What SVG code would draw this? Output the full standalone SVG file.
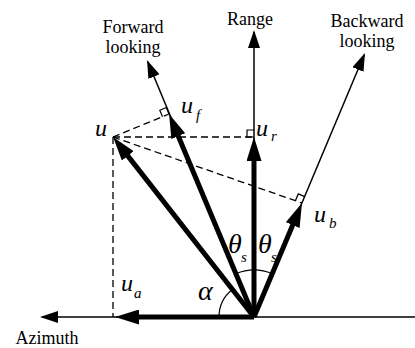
<svg xmlns="http://www.w3.org/2000/svg" width="415" height="348" viewBox="0 0 415 348">
<style>
.thin{stroke:#000;stroke-width:1.5;fill:none}
.thick{stroke:#000;stroke-width:5;fill:none}
.dash{stroke:#000;stroke-width:1.3;fill:none;stroke-dasharray:7 4}
.arc{stroke:#000;stroke-width:1.2;fill:none}
.sq{stroke:#000;stroke-width:1.2;fill:none}
text{font-family:'Liberation Serif','Times New Roman',serif;fill:#000}
.lbl{font-size:18px;text-anchor:middle}
.m{font-style:italic;font-size:24px}
.g{font-style:italic;font-size:28px}
.sub{font-style:italic;font-size:15px}
</style>
<defs>
<marker id="ah" markerUnits="userSpaceOnUse" markerWidth="18" markerHeight="12" refX="16" refY="6" orient="auto"><path d="M0,0 L18,6 L0,12 z" fill="#000"/></marker>
<marker id="ahb" markerUnits="userSpaceOnUse" markerWidth="24" markerHeight="15" refX="14" refY="7.5" orient="auto"><path d="M0,0 L24,7.5 L0,15 z" fill="#000"/></marker>
</defs>
<g id="connectors">
<line class="dash" x1="113" y1="137" x2="113" y2="317"/>
<line class="dash" x1="113" y1="137" x2="254" y2="137"/>
<line class="dash" x1="113" y1="137" x2="169" y2="114"/>
<line class="dash" x1="113" y1="137" x2="302" y2="203"/>
<line class="thin" x1="415" y1="317" x2="42" y2="317" marker-end="url(#ah)"/>
<line class="thin" x1="254" y1="317" x2="254" y2="32" marker-end="url(#ah)"/>
<line class="thin" x1="254" y1="317" x2="147.8" y2="61.8" marker-end="url(#ah)"/>
<line class="thin" x1="254" y1="317" x2="364.2" y2="54.8" marker-end="url(#ah)"/>
<line class="thick" x1="254" y1="317" x2="119.2" y2="144.9" marker-end="url(#ahb)"/>
<line class="thick" x1="254" y1="317" x2="172.9" y2="123.2" marker-end="url(#ahb)"/>
<line class="thick" x1="254" y1="317" x2="254" y2="147" marker-end="url(#ahb)"/>
<line class="thick" x1="254" y1="317" x2="298.1" y2="212.2" marker-end="url(#ahb)"/>
<line class="thick" x1="254" y1="317" x2="125" y2="317" marker-end="url(#ahb)"/>
<path class="sq" d="M169,114 L166.3,107.5 L159.8,110.2 L162.5,116.7"/>
<path class="sq" d="M254,130 L247,130 L247,137 L254,137"/>
<path class="sq" d="M304.7,196.6 L298.3,193.9 L295.6,200.3"/>
<path class="arc" d="M235.9,273.7 A47,47 0 0 1 272.2,273.7"/>
<path class="arc" d="M219,317 A35,35 0 0 1 232.4,289.5"/>
</g>
<g id="forward"><text class="lbl" x="133" y="33">Forward</text><text class="lbl" x="133" y="53">looking</text></g>
<g id="range"><text class="lbl" x="250" y="25">Range</text></g>
<g id="backward"><text class="lbl" x="367" y="27">Backward</text><text class="lbl" x="367" y="47">looking</text></g>
<g id="azimuth"><text class="lbl" x="47" y="344">Azimuth</text></g>
<g id="u"><text class="m" x="95" y="136">u</text></g>
<g id="uf"><text class="m" x="181" y="113">u</text><text class="sub" x="196" y="120">f</text></g>
<g id="ur"><text class="m" x="256" y="136">u</text><text class="sub" x="271" y="141">r</text></g>
<g id="ub"><text class="m" x="314" y="222">u</text><text class="sub" x="329" y="228">b</text></g>
<g id="ua"><text class="m" x="121" y="291">u</text><text class="sub" x="134" y="298">a</text></g>
<g id="alpha"><text class="g" x="198" y="300">α</text></g>
<g id="theta1"><text class="g" x="228" y="253">θ</text><text class="sub" x="241" y="262">s</text></g>
<g id="theta2"><text class="g" x="258" y="253">θ</text><text class="sub" x="271" y="262">s</text></g>
</svg>
